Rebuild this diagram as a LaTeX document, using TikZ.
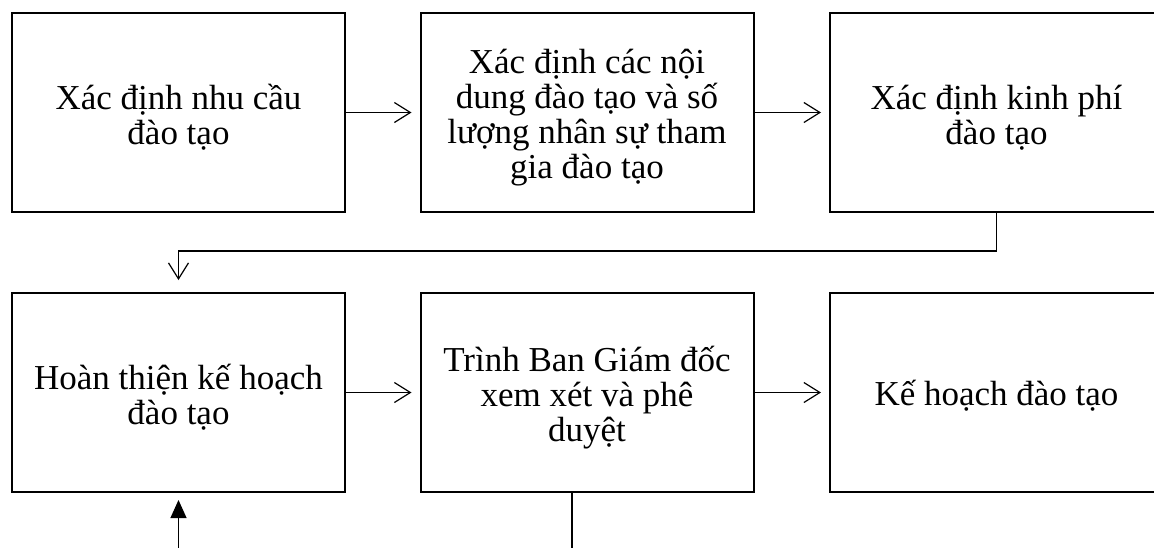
\documentclass[tikz,border=0pt]{standalone}
\usepackage{fontspec}
\setmainfont{Liberation Serif}
\usetikzlibrary{arrows.meta}
\tikzset{
    stepbox/.style={draw, line width=2pt, minimum width=333pt, minimum height=199pt, inner sep=0pt},
    steptext/.style={inner sep=0pt, align=center, font=\fontsize{35}{35}\selectfont},
    flow/.style={line width=1.2pt, -{Straight Barb[length=16pt,width=20pt]}},
    feed/.style={line width=1.2pt, -{Triangle[length=18pt,width=16pt]}}
}

\begin{document}
\begin{tikzpicture}[x=1pt, y=-1pt]
    % Fix the frame and cut what runs past it
    \useasboundingbox (0,0) rectangle (1154,547);
    \clip (0,0) rectangle (1154,547);

    % First row of steps
    \node[stepbox] (need) at (178.5,112.5) {};
    \node[stepbox] (content) at (587,112.5) {};
    \node[stepbox] (cost) at (996.5,112.5) {};

    % Second row of steps
    \node[stepbox] (finish) at (178.5,392.5) {};
    \node[stepbox] (approve) at (587,392.5) {};
    \node[stepbox] (plan) at (996.5,392.5) {};

    % Texts, set a little below the middle of each box
    \node[steptext] (needtext) at ([yshift=-5pt]need.center) {Xác định nhu cầu\\đào tạo};
    \node[steptext] (contenttext) at ([yshift=-5pt]content.center) {Xác định các nội\\dung đào tạo và số\\lượng nhân sự tham\\gia đào tạo};
    \node[steptext] (costtext) at ([yshift=-5pt]cost.center) {Xác định kinh phí\\đào tạo};
    \node[steptext] (finishtext) at ([yshift=-5pt]finish.center) {Hoàn thiện kế hoạch\\đào tạo};
    \node[steptext] (approvetext) at ([yshift=-5pt]approve.center) {Trình Ban Giám đốc\\xem xét và phê\\duyệt};
    \node[steptext] (plantext) at ([yshift=-3pt]plan.center) {Kế hoạch đào tạo};

    % Arrows along the rows
    \draw[flow] (need.east) -- ([xshift=-8pt]content.west);
    \draw[flow] (content.east) -- ([xshift=-8pt]cost.west);
    \draw[flow] (finish.east) -- ([xshift=-8pt]approve.west);
    \draw[flow] (approve.east) -- ([xshift=-8pt]plan.west);

    % From the cost box down to the second row
    \coordinate (turn) at (996.5,251);
    \draw[flow] (cost.south) -- (turn) -| ([yshift=12pt]finish.north);

    % Loose ends at the bottom
    \coordinate (below) at (178.5,560);
    \coordinate (out) at (572,560);
    \draw[feed] (below) -- ([yshift=-7pt]finish.south);
    \draw[line width=1.2pt] ([xshift=-15pt]approve.south) -- (out);
\end{tikzpicture}
\end{document}
